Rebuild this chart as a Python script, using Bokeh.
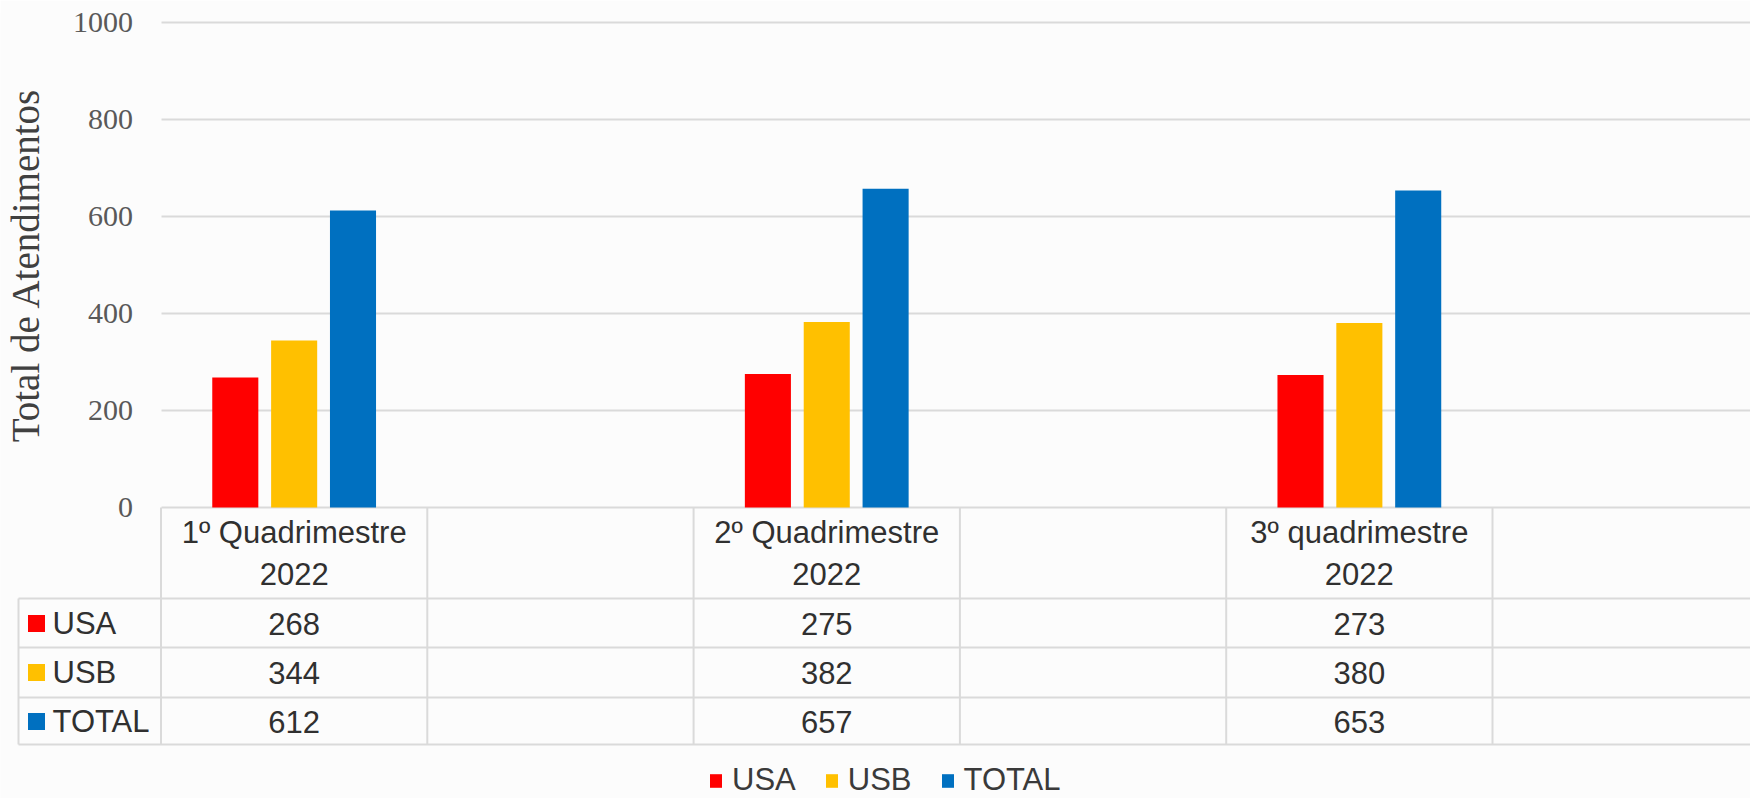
from bokeh.plotting import figure
from bokeh.models import Range1d, FixedTicker, Legend, LegendItem, LinearAxis, Grid
from bokeh.core.properties import value
from bokeh.embed import file_html
from bokeh.resources import INLINE

# ---------------- data ----------------
categories = ["1º Quadrimestre\n2022", "2º Quadrimestre\n2022", "3º quadrimestre\n2022"]
series = ["USA", "USB", "TOTAL"]
usa = [268, 275, 273]
usb = [344, 382, 380]
total = [612, 657, 653]
colors = ["#FF0000", "#FFC000", "#0070C0"]
y_ticks = [0, 200, 400, 600, 800, 1000]
y_label = "Total de Atendimentos"
n_slots = 6  # category slots on the axis (every second slot is empty)

values = [usa, usb, total]

# ---------------- layout helpers (page pixels) ----------------
W, H = 1750, 798
TOP = 12                 # frame top
ZERO_Y = 507             # page y of value 0
UPP = 1000.0 / (ZERO_Y - 21.7)  # data units per pixel
Y_MAX = (ZERO_Y - TOP) * UPP
Y_MIN = -(H - ZERO_Y) * UPP
SLOT = 266.3             # px per category slot
X0 = 160.5               # page x of x = 0
X_MIN = -X0 / SLOT
X_MAX = (W - X0) / SLOT


def ypx(page_y):
    return -(page_y - ZERO_Y) * UPP


def xpx(page_x):
    return (page_x - X0) / SLOT


SANS = value("Liberation Sans")
SERIF = "Liberation Serif"
BG = "#fcfcfc"
LINE = "#dadada"
TXT = "#303030"
FS = "31px"

p = figure(width=W, height=H, output_backend="svg", toolbar_location=None,
           x_range=Range1d(X_MIN, X_MAX), y_range=Range1d(Y_MIN, Y_MAX),
           x_axis_location=None, y_axis_location=None,
           min_border_left=0, min_border_right=0, min_border_top=TOP, min_border_bottom=0)
p.background_fill_color = BG
p.border_fill_color = BG
p.outline_line_color = None
p.xgrid.visible = False
p.ygrid.visible = False

# y axis drawn at x = 0
yaxis = LinearAxis(fixed_location=0, ticker=FixedTicker(ticks=y_ticks), bounds=(0, 1000))
yaxis.axis_label = y_label
yaxis.axis_label_text_font = SERIF
yaxis.axis_label_text_font_size = "39px"
yaxis.axis_label_text_font_style = "normal"
yaxis.axis_label_text_color = "#404040"
yaxis.axis_label_standoff = 24
yaxis.axis_line_color = None
yaxis.major_tick_line_color = None
yaxis.minor_tick_line_color = None
yaxis.major_tick_out = 0
yaxis.major_tick_in = 0
yaxis.major_label_standoff = 28
yaxis.major_label_text_font = SERIF
yaxis.major_label_text_font_size = "30px"
yaxis.major_label_text_color = "#595959"
p.add_layout(yaxis, "left")

grid = Grid(dimension=1, ticker=FixedTicker(ticks=y_ticks),
            grid_line_color=LINE, grid_line_width=2)
if "cross_bounds" in Grid.properties():
    grid.cross_bounds = (0, X_MAX)
p.add_layout(grid, "center")

# ---------------- bars ----------------
offsets = [-0.221, 0.0, 0.221]
slot_x = [2 * i + 0.5 for i in range(len(categories))]
bar_renderers = []
for s, vals, col, off in zip(series, values, colors, offsets):
    r = p.vbar(x=[x + off for x in slot_x], top=vals, bottom=0, width=0.173,
               fill_color=col, line_color=None)
    bar_renderers.append(r)

# ---------------- data table ----------------
tbl_left = xpx(18)
row_lines = [ypx(598), ypx(647), ypx(697), ypx(744)]
p.segment(x0=[tbl_left] * 4, x1=[X_MAX] * 4, y0=row_lines, y1=row_lines,
          line_color=LINE, line_width=2)
p.segment(x0=[tbl_left], x1=[tbl_left], y0=[row_lines[0]], y1=[row_lines[-1]],
          line_color=LINE, line_width=2)
vx = list(range(n_slots))
p.segment(x0=vx, x1=vx, y0=[0] * n_slots, y1=[row_lines[-1]] * n_slots,
          line_color=LINE, line_width=2)

p.text(x=slot_x, y=[ypx(553)] * len(categories), text=categories,
       text_font=SANS, text_font_size=FS, text_color=TXT,
       text_align="center", text_baseline="middle", text_line_height=1.18)

row_y = [ypx(623), ypx(672), ypx(721)]
for vals, ry in zip(values, row_y):
    p.text(x=slot_x, y=[ry] * len(vals), text=[str(v) for v in vals],
           text_font=SANS, text_font_size=FS, text_color=TXT,
           text_align="center", text_baseline="middle")

p.rect(x=[xpx(36)] * 3, y=row_y, width=17, height=17, width_units="screen",
       height_units="screen", fill_color=colors, line_color=None)
p.text(x=[xpx(52)] * 3, y=row_y, text=series,
       text_font=SANS, text_font_size=FS, text_color=TXT,
       text_align="left", text_baseline="middle")

# ---------------- legend ----------------
legend = Legend(items=[LegendItem(label=s, renderers=[r]) for s, r in zip(series, bar_renderers)],
                orientation="horizontal", location=(708, 0),
                glyph_width=15, glyph_height=17, label_standoff=9, spacing=28,
                padding=0, margin=0, border_line_color=None, background_fill_alpha=0,
                label_text_font="Liberation Sans", label_text_font_size=FS,
                label_text_color="#3a3a3a")
p.add_layout(legend, "center")

open("out.html", "w").write(file_html(p, INLINE))
